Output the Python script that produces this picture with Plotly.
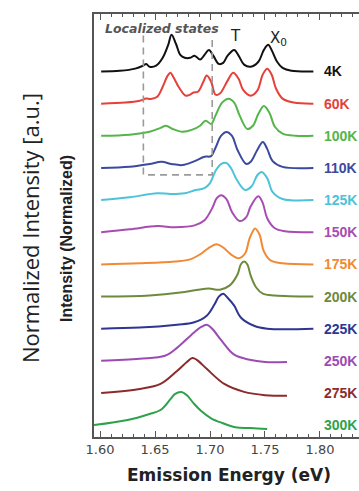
import plotly.graph_objects as go

# Temperature-dependent PL spectra (normalized), stacked with a constant offset
temps = ["4K", "60K", "100K", "110K", "125K", "150K", "175K", "200K", "225K", "250K", "275K", "300K"]
colors = ["#111111", "#e5403a", "#55b54a", "#3b4a9e", "#4cc3d9", "#a84cb3", "#f28a33",
          "#6e8a3c", "#2f3591", "#9b4bb2", "#8c2b2b", "#2ea24b"]

e_4k = [1.601, 1.618, 1.632, 1.639, 1.642, 1.645, 1.651, 1.657, 1.662, 1.665, 1.669, 1.673, 1.677, 1.682,
        1.686, 1.691, 1.695, 1.699, 1.703, 1.708, 1.712, 1.716, 1.722, 1.726, 1.731, 1.737, 1.744, 1.749,
        1.753, 1.756, 1.761, 1.766, 1.774, 1.794]
i_4k = [0, 0.02, 0.08, 0.16, 0.21, 0.13, 0.16, 0.38, 0.74, 1.02, 0.77, 0.46, 0.38, 0.38,
        0.44, 0.33, 0.46, 0.60, 0.44, 0.21, 0.24, 0.44, 0.60, 0.44, 0.19, 0.13, 0.27, 0.60,
        0.74, 0.60, 0.27, 0.10, 0.02, 0]

e_60k = [1.601, 1.623, 1.636, 1.642, 1.646, 1.652, 1.657, 1.661, 1.664, 1.667, 1.672, 1.678, 1.682, 1.685,
         1.689, 1.694, 1.697, 1.701, 1.705, 1.709, 1.716, 1.721, 1.726, 1.730, 1.737, 1.743, 1.748, 1.752,
         1.756, 1.760, 1.766, 1.776, 1.794]
i_60k = [0, 0.03, 0.08, 0.14, 0.13, 0.19, 0.47, 0.75, 0.86, 0.72, 0.44, 0.22, 0.25, 0.31,
         0.33, 0.61, 0.78, 0.61, 0.25, 0.28, 0.64, 0.86, 0.69, 0.39, 0.22, 0.36, 0.81, 0.97,
         0.81, 0.42, 0.14, 0.03, 0]

e_100k = [1.601, 1.627, 1.645, 1.655, 1.660, 1.666, 1.675, 1.684, 1.691, 1.696, 1.701, 1.705, 1.711,
          1.717, 1.722, 1.727, 1.734, 1.739, 1.744, 1.749, 1.754, 1.759, 1.766, 1.778, 1.794]
i_100k = [0, 0.03, 0.11, 0.22, 0.28, 0.19, 0.11, 0.17, 0.28, 0.42, 0.33, 0.56, 0.92,
          1.03, 0.92, 0.56, 0.19, 0.28, 0.61, 0.83, 0.64, 0.25, 0.06, 0, 0]

e_110k = [1.601, 1.627, 1.645, 1.656, 1.665, 1.675, 1.686, 1.695, 1.701, 1.705, 1.710, 1.715, 1.720,
          1.725, 1.733, 1.737, 1.743, 1.748, 1.752, 1.757, 1.766, 1.794]
i_110k = [0, 0.03, 0.11, 0.17, 0.11, 0.08, 0.19, 0.31, 0.33, 0.56, 0.89, 1.0, 0.89,
          0.50, 0.11, 0.17, 0.50, 0.72, 0.53, 0.19, 0.03, 0]

e_125k = [1.601, 1.627, 1.652, 1.664, 1.677, 1.687, 1.695, 1.700, 1.705, 1.710, 1.715, 1.719, 1.725,
          1.732, 1.738, 1.743, 1.747, 1.752, 1.757, 1.766, 1.794]
i_125k = [0, 0.08, 0.19, 0.17, 0.19, 0.28, 0.33, 0.47, 0.81, 1.0, 1.03, 0.89, 0.53,
          0.28, 0.39, 0.69, 0.78, 0.61, 0.22, 0.03, 0]

e_150k = [1.601, 1.627, 1.652, 1.668, 1.686, 1.695, 1.702, 1.706, 1.710, 1.715, 1.720, 1.727, 1.733,
          1.737, 1.744, 1.748, 1.752, 1.759, 1.768, 1.794]
i_150k = [0, 0.08, 0.17, 0.14, 0.19, 0.33, 0.67, 0.94, 1.03, 0.92, 0.56, 0.31, 0.42,
          0.72, 1.0, 0.81, 0.39, 0.11, 0.03, 0]

e_175k = [1.601, 1.636, 1.668, 1.682, 1.691, 1.698, 1.706, 1.712, 1.719, 1.726, 1.732, 1.736, 1.741,
          1.745, 1.749, 1.755, 1.766, 1.794]
i_175k = [0, 0.03, 0.08, 0.14, 0.28, 0.44, 0.56, 0.47, 0.28, 0.17, 0.31, 0.72, 1.0,
          0.83, 0.36, 0.11, 0.03, 0]

e_200k = [1.601, 1.645, 1.673, 1.689, 1.699, 1.709, 1.718, 1.725, 1.728, 1.731, 1.734, 1.737, 1.742,
          1.748, 1.759, 1.794]
i_200k = [0, 0.03, 0.11, 0.19, 0.22, 0.19, 0.31, 0.61, 0.89, 0.97, 0.89, 0.58, 0.25,
          0.08, 0.03, 0]

e_225k = [1.601, 1.636, 1.670, 1.685, 1.697, 1.704, 1.708, 1.712, 1.716, 1.722, 1.728, 1.740, 1.752, 1.794]
i_225k = [0, 0.03, 0.11, 0.17, 0.36, 0.67, 0.89, 0.97, 0.86, 0.64, 0.31, 0.08, 0, 0]

e_250k = [1.601, 1.636, 1.659, 1.670, 1.683, 1.692, 1.697, 1.702, 1.710, 1.722, 1.736, 1.750, 1.770]
i_250k = [0, 0.06, 0.14, 0.36, 0.72, 0.94, 1.0, 0.89, 0.58, 0.17, 0.03, -0.03, -0.03]

e_275k = [1.601, 1.636, 1.655, 1.670, 1.679, 1.684, 1.688, 1.697, 1.713, 1.731, 1.750, 1.770]
i_275k = [0, 0.11, 0.25, 0.61, 0.86, 0.97, 0.92, 0.67, 0.25, 0.03, -0.06, -0.08]

e_300k = [1.5945, 1.625, 1.645, 1.655, 1.664, 1.668, 1.674, 1.679, 1.685, 1.692, 1.701, 1.711, 1.723,
          1.737, 1.752]
i_300k = [0, 0.14, 0.31, 0.42, 0.72, 0.86, 0.92, 0.83, 0.61, 0.39, 0.19, 0.06, -0.06,
          -0.08, -0.11]

energies = [e_4k, e_60k, e_100k, e_110k, e_125k, e_150k, e_175k, e_200k, e_225k, e_250k, e_275k, e_300k]
intensities = [i_4k, i_60k, i_100k, i_110k, i_125k, i_150k, i_175k, i_200k, i_225k, i_250k, i_275k, i_300k]

x_ticks = [1.60, 1.65, 1.70, 1.75, 1.80]

# vertical stacking: lowest trace at BASE, each warmer spectrum one STEP lower
BASE = 0.33
STEP = 0.893
n = len(temps)

SANS = "DejaVu Sans"
ARIAL = "Liberation Sans"

fig = go.Figure()
annotations = []
for k, (t, c, e, inten) in enumerate(zip(temps, colors, energies, intensities)):
    off = BASE + STEP * (n - 1 - k)
    fig.add_trace(go.Scatter(
        x=e, y=[v + off for v in inten], mode="lines",
        line=dict(color=c, width=2, shape="spline", smoothing=1.0),
        hoverinfo="skip", showlegend=False))
    annotations.append(dict(
        x=1.802, y=off, xref="x", yref="y", text=f"<b>{t}</b>", showarrow=False,
        xanchor="left", yanchor="middle",
        font=dict(family=ARIAL, size=14, color=c)))

# peak labels and region label
annotations += [
    dict(x=1.7236, y=11.14, xref="x", yref="y", text="T", showarrow=False,
         font=dict(family=SANS, size=15, color="#222")),
    dict(x=1.7625, y=11.06, xref="x", yref="y", text="X<sub>0</sub>", showarrow=False,
         font=dict(family=SANS, size=15, color="#222")),
    dict(x=1.6027, y=11.36, xref="x", yref="y", text="<b><i>Localized states</i></b>",
         showarrow=False, xanchor="left",
         font=dict(family=SANS, size=12.5, color="#555")),
    dict(x=0.509, y=-0.09, xref="paper", yref="paper", text="<b>Emission Energy (eV)</b>",
         showarrow=False, yanchor="middle",
         font=dict(family=SANS, size=17, color="#222")),
    dict(x=-0.1057, y=0.4704, xref="paper", yref="paper", text="<b>Intensity (Normalized)</b>",
         showarrow=False, textangle=-90, xanchor="center", yanchor="middle",
         font=dict(family=ARIAL, size=16, color="#222")),
    dict(x=-0.2415, y=0.494, xref="paper", yref="paper", text="Normalized Intensity [a.u.]",
         showarrow=False, textangle=-90, xanchor="center", yanchor="middle",
         font=dict(family="Open Sans", size=22, color="#222")),
]

# dashed frame around the localized-state region
box_l, box_r, box_top, box_bot = 1.6394, 1.702, 11.15, 7.28
shapes = [dict(type="path", xref="x", yref="y",
               path=f"M {box_l},{box_top} L {box_l},{box_bot} L {box_r},{box_bot} L {box_r},{box_top}",
               line=dict(color="#9a9a9a", width=1.6, dash="7px,5px"))]

fig.update_layout(
    width=359, height=491, autosize=False,
    margin=dict(l=94, r=0, t=14, b=54),
    paper_bgcolor="white", plot_bgcolor="white",
    showlegend=False,
    annotations=annotations, shapes=shapes,
    xaxis=dict(range=[1.5945, 1.8355], tickvals=x_ticks, ticktext=[f"{v:.2f}" for v in x_ticks],
               ticks="inside", ticklen=6, tickwidth=1.3, tickcolor="#555",
               minor=dict(dtick=0.01, tick0=1.6, ticks="inside", ticklen=3, tickwidth=1.2, tickcolor="#555"),
               showline=True, linecolor="#555", linewidth=1.6, mirror="ticks",
               showgrid=False, zeroline=False,
               tickfont=dict(family=SANS, size=13, color="#444")),
    yaxis=dict(range=[0, 11.75], showticklabels=False, ticks="",
               showline=True, linecolor="#555", linewidth=1.6,
               showgrid=False, zeroline=False),
)

fig.write_html("out.html")
